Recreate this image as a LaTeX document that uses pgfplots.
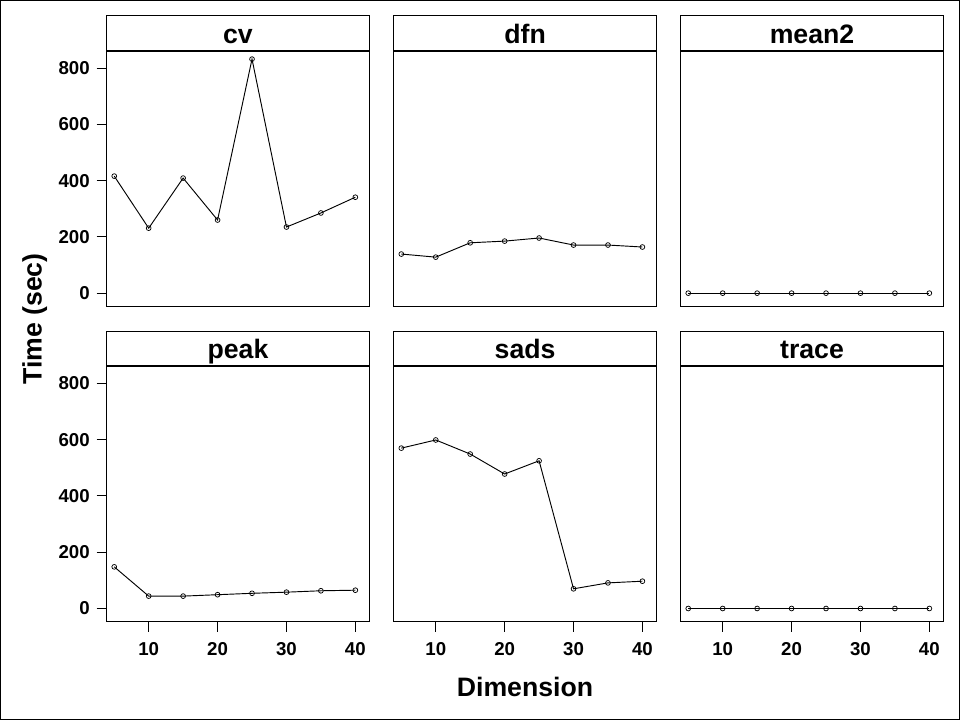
\documentclass[border=0pt]{standalone}
\usepackage{pgfplots}
\usepackage{pgfplotstable}
\pgfplotsset{compat=1.18}
\usepackage{fontspec}
\setmainfont{Liberation Sans}

\pgfplotstableread{
dim cv dfn mean2 peak sads trace
5  416 139 0 148 570 0
10 231 128 0 44  599 0
15 409 179 0 44  549 0
20 260 185 0 49  478 0
25 832 196 0 54  525 0
30 235 171 0 58  70  0
35 285 171 0 63  91  0
40 341 164 0 65  97  0
}\datatable

\pgfplotsset{
  panel/.style={
    scale only axis, width=197pt, height=191.8pt,
    xmin=3.9, xmax=42.03, ymin=-48, ymax=861,
    axis line style={line width=0.75pt},
    tick align=outside, major tick length=7.5pt,
    every tick/.style={black, line width=0.75pt},
    tick label style={font=\bfseries\fontsize{14}{15}\selectfont},
    /pgf/number format/assume math mode=true,
    xtick=\empty, ytick=\empty,
    clip=false,
  },
  leftcol/.style={ytick={0,200,400,600,800}, ytick pos=left,
    yticklabel style={inner sep=0pt, xshift=-5pt}},
  bottomrow/.style={xtick={10,20,30,40}, xtick pos=bottom,
    xticklabel style={inner sep=0pt, yshift=-7.5pt}},
  dataline/.style={black, line width=0.7pt, mark=o, mark size=1.8pt,
    mark options={line width=0.55pt, fill=white}},
}

\newcommand{\strip}[2]{%
  \draw[line width=0.75pt] (#1.north west) rectangle ([yshift=26.25pt]#1.north east);
  \draw[line width=1.6pt] (#1.north west) -- (#1.north east);
  \node[anchor=base, inner sep=0pt, font=\bfseries\fontsize{20}{21}\selectfont]
    at ([yshift=5.9pt]#1.north) {#2};
}

\begin{document}
\begin{tikzpicture}
\path[use as bounding box] (0,0) rectangle (720pt,540pt);
\draw[line width=0.75pt] (0.375pt,0.375pt) rectangle (719.625pt,539.625pt);

% row 1
\begin{axis}[panel, leftcol, name=cv, anchor=south west, at={(80pt,310pt)}]
\addplot[dataline] table[x=dim, y=cv] {\datatable};
\end{axis}
\begin{axis}[panel, name=dfn, anchor=south west, at={(295.3pt,310pt)}]
\addplot[dataline] table[x=dim, y=dfn] {\datatable};
\end{axis}
\begin{axis}[panel, name=mean, anchor=south west, at={(510.5pt,310pt)}]
\addplot[dataline] table[x=dim, y=mean2] {\datatable};
\end{axis}

% row 2
\begin{axis}[panel, leftcol, bottomrow, name=peak, anchor=south west, at={(80pt,73.5pt)}]
\addplot[dataline] table[x=dim, y=peak] {\datatable};
\end{axis}
\begin{axis}[panel, bottomrow, name=sads, anchor=south west, at={(295.3pt,73.5pt)}]
\addplot[dataline] table[x=dim, y=sads] {\datatable};
\end{axis}
\begin{axis}[panel, bottomrow, name=trace, anchor=south west, at={(510.5pt,73.5pt)}]
\addplot[dataline] table[x=dim, y=trace] {\datatable};
\end{axis}

\strip{cv}{cv}
\strip{dfn}{dfn}
\strip{mean}{mean2}
\strip{peak}{peak}
\strip{sads}{sads}
\strip{trace}{trace}

\node[anchor=base, inner sep=0pt, font=\bfseries\fontsize{20}{22}\selectfont]
  at (393.75pt,17.5pt) {Dimension};
\node[anchor=base, rotate=90, inner sep=0pt, font=\bfseries\fontsize{20}{22}\selectfont]
  at (31.3pt,300.75pt) {Time (sec)};
\end{tikzpicture}
\end{document}
